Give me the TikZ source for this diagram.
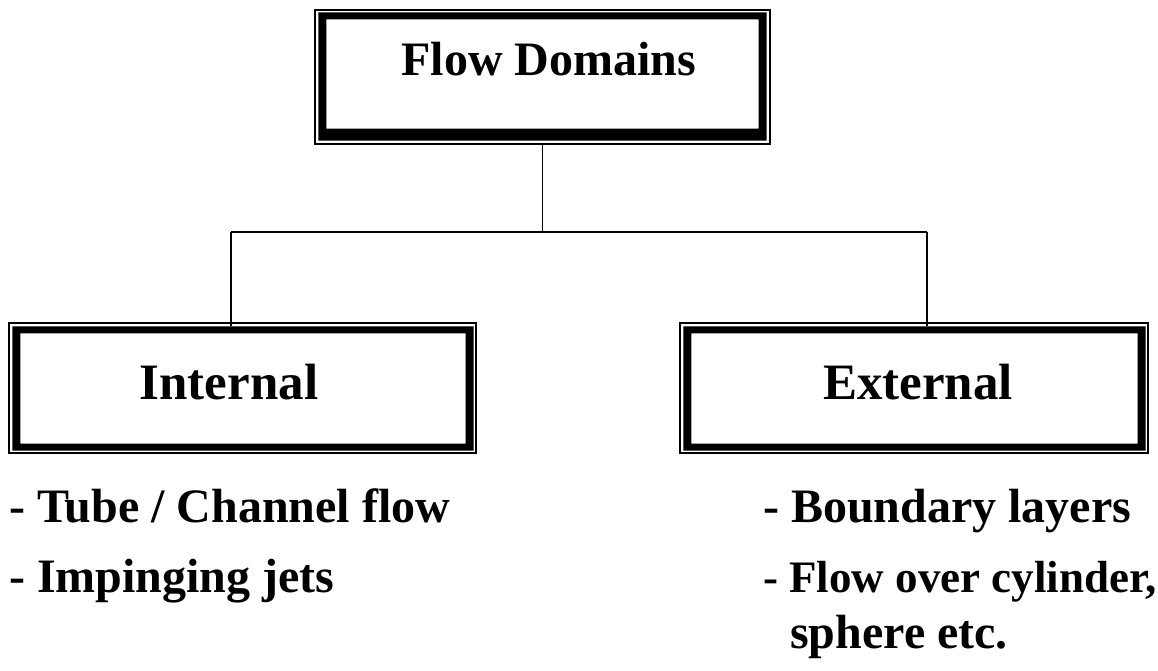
\documentclass[tikz,border=0pt]{standalone}
\usepackage{fontspec}
\setmainfont{Liberation Serif}
\begin{document}
\begin{tikzpicture}[x=1pt,y=-1pt,
  framebox/.style={draw=black,line width=1.3pt,inner sep=0pt,rectangle},
  conn/.style={draw=black,line width=1.5pt},
  lbl/.style={font=\fontsize{51}{60}\selectfont\bfseries,inner sep=0pt},
  item/.style={font=\fontsize{48}{56}\selectfont\bfseries,inner sep=0pt,anchor=base west}]
\useasboundingbox[fill=white] (0,0) rectangle (1158,670);
% boxes
\node[framebox,minimum width=455pt,minimum height=134pt] (top) at (542.5,77) {};
\node[framebox,minimum width=467pt,minimum height=130pt] (left) at (242.5,388) {};
\node[framebox,minimum width=468pt,minimum height=130pt] (right) at (914,388) {};
% thick inner bands
\fill[even odd rule] ([shift={(4pt,-3pt)}]top.north west) rectangle ([shift={(-4pt,4pt)}]top.south east)
  ([shift={(12pt,-10pt)}]top.north west) rectangle ([shift={(-12pt,16pt)}]top.south east);
\fill[even odd rule] ([shift={(4pt,-4pt)}]left.north west) rectangle ([shift={(-3pt,3pt)}]left.south east)
  ([shift={(12pt,-11pt)}]left.north west) rectangle ([shift={(-11pt,10pt)}]left.south east);
\fill[even odd rule] ([shift={(4pt,-4pt)}]right.north west) rectangle ([shift={(-3pt,3pt)}]right.south east)
  ([shift={(12pt,-11pt)}]right.north west) rectangle ([shift={(-11pt,10pt)}]right.south east);
% labels
\node[lbl,anchor=base,font=\fontsize{48}{56}\selectfont\bfseries] (ttop) at (549,75) {Flow Domains};
\node[lbl,anchor=base] (tleft) at (229,399) {Internal};
\node[lbl,anchor=base] (tright) at (918,399) {External};
% connectors
\coordinate (jL) at (231,232);
\coordinate (jR) at (927,232);
\draw[conn] (top.south) -- (top.south |- jL);
\draw[conn] (jL) -- (jR);
\draw[conn] (jL) -- ([yshift=-4pt]jL |- left.north);
\draw[conn] (jR) -- ([yshift=-4pt]jR |- right.north);
% items
\node[item] (i1) at (9,522) {- Tube / Channel flow};
\node[item] (i2) at (9,592) {- Impinging jets};
\node[item] (e1) at (763,522) {- Boundary layers};
\node[item,font=\fontsize{45}{56}\selectfont\bfseries] (e2) at (763,592) {- Flow over cylinder,};
\node[item] (e3) at (790,648) {sphere etc.};
\end{tikzpicture}
\end{document}
